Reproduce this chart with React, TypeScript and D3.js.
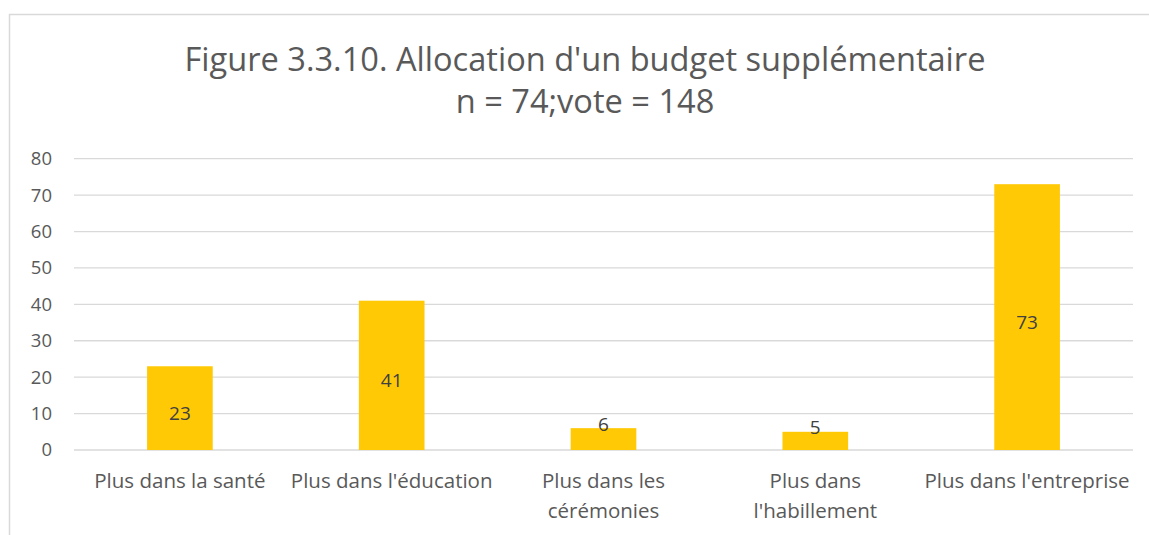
import React from 'react';
import * as d3 from 'd3';

// data
const categories = [
  ['Plus dans la santé'],
  ["Plus dans l'éducation"],
  ['Plus dans les', 'cérémonies'],
  ['Plus dans', "l'habillement"],
  ["Plus dans l'entreprise"],
];
const votes = [23, 41, 6, 5, 73];
const yTicks = [0, 10, 20, 30, 40, 50, 60, 70, 80];
const titleLines = ["Figure 3.3.10. Allocation d'un budget supplémentaire", 'n = 74;vote = 148'];

export default function App() {
  const width = 1149;
  const height = 535;
  const font = "'Open Sans', sans-serif";
  const plot = { left: 74, right: 1133, top: 158.7, bottom: 450 };

  const x = d3
    .scaleBand<number>()
    .domain(d3.range(votes.length))
    .range([plot.left, plot.right])
    .paddingInner(0.69)
    .paddingOuter(0.345);
  const y = d3.scaleLinear().domain([0, 80]).range([plot.bottom, plot.top]);
  const cx = (i: number) => (x(i) as number) + x.bandwidth() / 2;

  return (
    <svg
      width={width}
      height={height}
      style={{ position: 'absolute', left: 0, top: 0, background: '#fff' }}
      fontFamily={font}
    >
      {/* chart frame, cut off at right and bottom */}
      <rect x={9.5} y={14.5} width={1160} height={540} fill="#fff" stroke="#D9D9D9" strokeWidth={1.5} />

      {/* title */}
      {titleLines.map((t, i) => (
        <text key={i} x={585} y={71 + i * 42} textAnchor="middle" fontSize={32.6} fill="#595959">
          {t}
        </text>
      ))}

      {/* gridlines + y tick labels */}
      {yTicks.map((t) => (
        <g key={t}>
          <line x1={plot.left} x2={plot.right} y1={y(t)} y2={y(t)} stroke="#D9D9D9" strokeWidth={1.3} />
          <text x={52} y={y(t)} dy="0.35em" textAnchor="end" fontSize={18.5} fill="#595959">
            {t}
          </text>
        </g>
      ))}

      {/* bars */}
      {votes.map((v, i) => (
        <rect key={i} x={x(i)} y={y(v)} width={x.bandwidth()} height={y(0) - y(v)} fill="#FFC906" />
      ))}

      {/* value labels */}
      {votes.map((v, i) => {
        const top = y(v);
        const h = y(0) - top;
        const ly = h < 30 ? top - 4 : (top + y(0)) / 2 + 5;
        return (
          <text key={i} x={cx(i)} y={ly} dy="0.35em" textAnchor="middle" fontSize={19} fill="#404040">
            {v}
          </text>
        );
      })}

      {/* category labels */}
      {categories.map((lines, i) => (
        <text key={i} textAnchor="middle" fontSize={20.5} fill="#595959">
          {lines.map((l, j) => (
            <tspan key={j} x={cx(i)} y={488 + j * 29.5}>
              {l}
            </tspan>
          ))}
        </text>
      ))}
    </svg>
  );
}
